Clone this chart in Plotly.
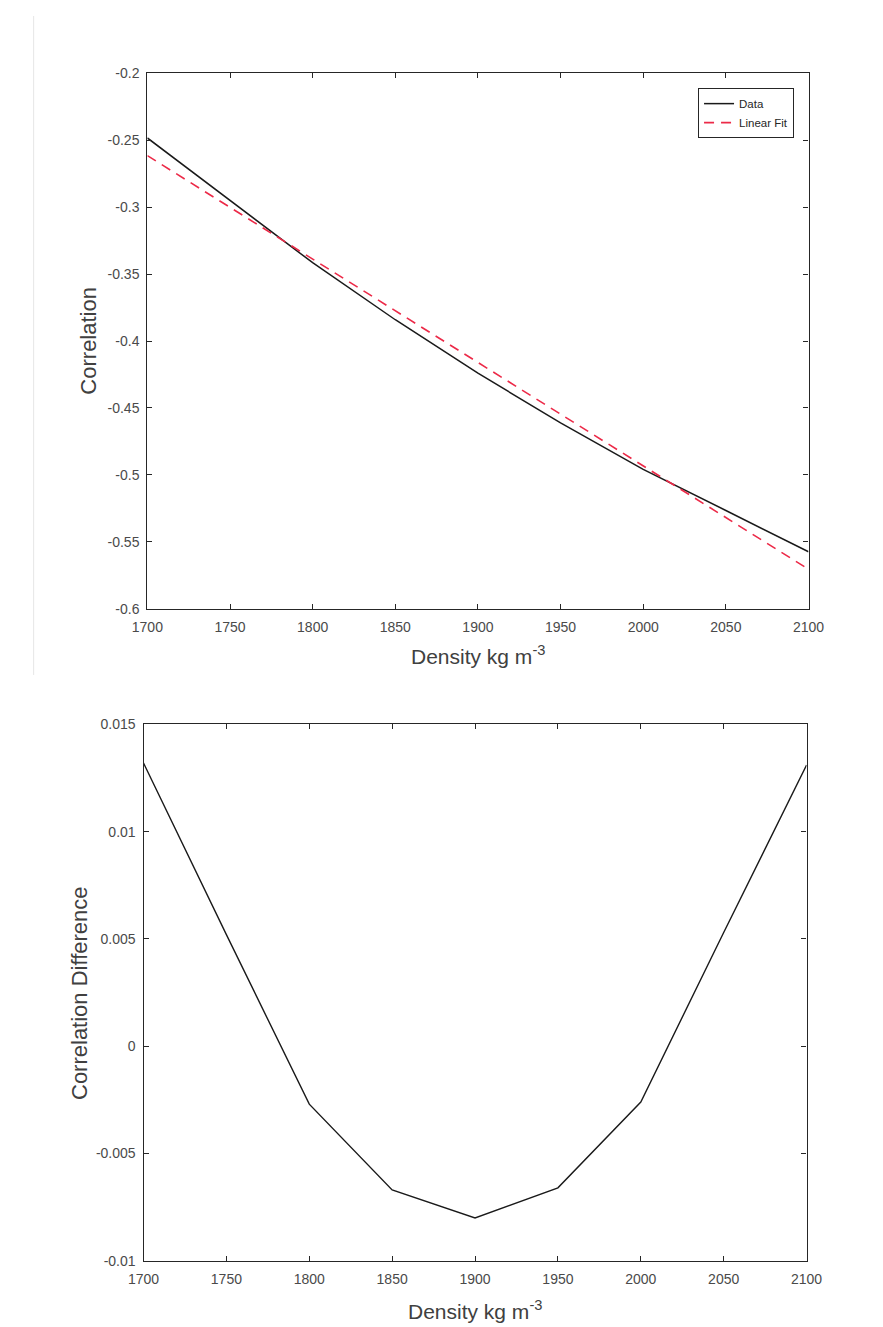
import plotly.graph_objects as go

density = [1700, 1750, 1800, 1850, 1900, 1950, 2000, 2050, 2100]
corr_data = [-0.2483, -0.2949, -0.3415, -0.3841, -0.4240, -0.4612, -0.4959, -0.5266, -0.5574]
corr_fit = [-0.2615, -0.3001, -0.3388, -0.3774, -0.4160, -0.4546, -0.4933, -0.5319, -0.5705]
corr_diff = [0.0132, 0.0052, -0.0027, -0.0067, -0.0080, -0.0066, -0.0026, 0.0053, 0.0131]

x_ticks = [1700, 1750, 1800, 1850, 1900, 1950, 2000, 2050, 2100]
y1_ticks = [-0.6, -0.55, -0.5, -0.45, -0.4, -0.35, -0.3, -0.25, -0.2]
y1_labels = ["-0.6", "-0.55", "-0.5", "-0.45", "-0.4", "-0.35", "-0.3", "-0.25", "-0.2"]
y2_ticks = [-0.01, -0.005, 0, 0.005, 0.01, 0.015]
y2_labels = ["-0.01", "-0.005", "0", "0.005", "0.01", "0.015"]

W, H = 883, 1327
FONT = "Liberation Sans, Arial, Helvetica, sans-serif"
AX = "#262626"
TICKC = "#4a4a4a"

fig = go.Figure()
fig.add_trace(go.Scatter(x=density, y=corr_data, mode="lines", name="Data",
                         line=dict(color="#1a1a1a", width=1.5), xaxis="x", yaxis="y"))
fig.add_trace(go.Scatter(x=density, y=corr_fit, mode="lines", name="Linear Fit",
                         line=dict(color="#ec2a48", width=1.6, dash="10px,7px"), xaxis="x", yaxis="y"))
fig.add_trace(go.Scatter(x=density, y=corr_diff, mode="lines", showlegend=False,
                         line=dict(color="#1a1a1a", width=1.4), xaxis="x2", yaxis="y2"))

def axis_common(**kw):
    d = dict(showline=True, linecolor=AX, linewidth=1.2, mirror="ticks",
             ticks="inside", ticklen=5, tickcolor=AX, tickwidth=1,
             showgrid=False, zeroline=False,
             tickfont=dict(family=FONT, size=14, color=TICKC))
    d.update(kw)
    return d

top_y = [1 - 600 / H, 1 - 58 / H]
bot_y = [1 - 1260 / H, 1 - 717 / H]

fig.update_layout(
    width=W, height=H,
    margin=dict(l=0, r=0, t=0, b=0),
    paper_bgcolor="white", plot_bgcolor="white",
    font=dict(family=FONT, color=TICKC),
    xaxis=axis_common(domain=[128 / W, 814 / W], range=[1700, 2100], tickvals=x_ticks,
                      anchor="y", ticklabelstandoff=5),
    yaxis=axis_common(domain=top_y, range=[-0.6, -0.2], tickvals=y1_ticks,
                      ticktext=y1_labels, anchor="x", ticklabelstandoff=4),
    xaxis2=axis_common(domain=[124 / W, 812 / W], range=[1700, 2100], tickvals=x_ticks,
                       anchor="y2", ticklabelstandoff=5),
    yaxis2=axis_common(domain=bot_y, range=[-0.01, 0.015], tickvals=y2_ticks,
                       ticktext=y2_labels, anchor="x2", ticklabelstandoff=4),
    legend=dict(x=799 / W, y=1 - 73 / H, xanchor="right", yanchor="top",
                bgcolor="white", bordercolor=AX, borderwidth=1,
                font=dict(family=FONT, size=11.5, color="#262626"),
                tracegroupgap=0, itemwidth=30),
    showlegend=True,
)

def title_ann(text, xpx, ypx, angle=0, size=21):
    return dict(text=text, x=xpx / W, y=1 - ypx / H, xref="paper", yref="paper",
                xanchor="center", yanchor="middle", textangle=angle,
                showarrow=False, font=dict(family=FONT, size=size, color="#404040"))

annotations = [
    title_ann("Correlation", 66, 329, -90, 22),
    title_ann("Correlation Difference", 57, 989, -90, 22),
    title_ann("Density kg m<sup>-3</sup>", 471, 647),
    title_ann("Density kg m<sup>-3</sup>", 468, 1310),
]
fig.update_layout(annotations=annotations)

fig.add_shape(type="line", xref="paper", yref="paper", x0=10 / W, x1=10 / W,
              y0=1, y1=1 - 667 / H, line=dict(color="#e6e6e6", width=1))

fig.write_html("out.html")
